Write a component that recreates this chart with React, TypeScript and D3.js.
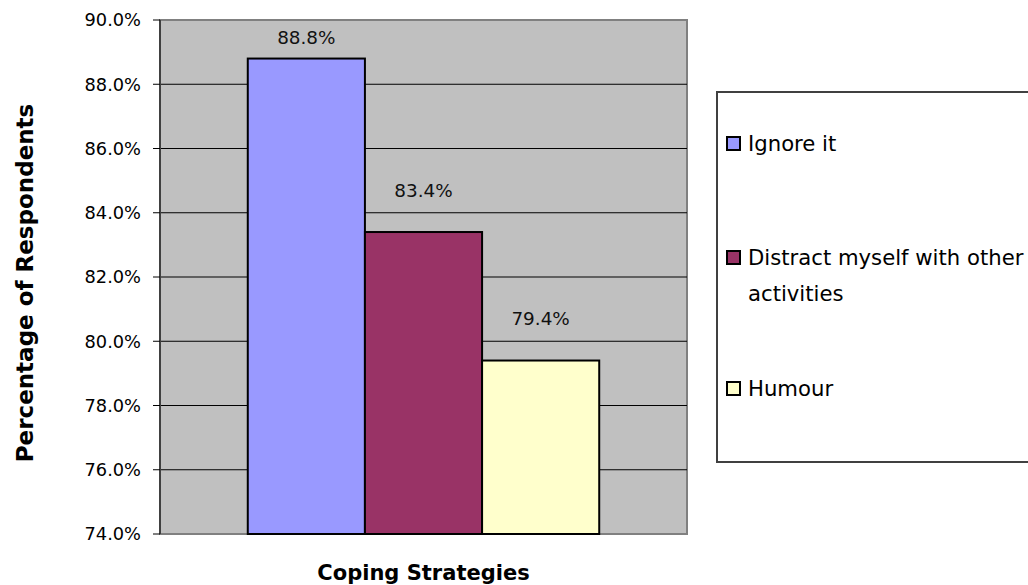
import React from "react";
import * as d3 from "d3";

const categories = ["Ignore it", "Distract myself with other activities", "Humour"];
const legendLines = [["Ignore it"], ["Distract myself with other", "activities"], ["Humour"]];
const values = [88.8, 83.4, 79.4];
const colors = ["#9999ff", "#993366", "#ffffcc"];
const yTicks = [74, 76, 78, 80, 82, 84, 86, 88, 90];

const W = 1028;
const H = 585;
const plot = { left: 160, right: 687, top: 20, bottom: 534 };

export default function App() {
  const y = d3.scaleLinear().domain([74, 90]).range([plot.bottom, plot.top]);
  const outer = d3
    .scaleBand<string>()
    .domain(["g"])
    .range([plot.left, plot.right])
    .paddingInner(0)
    .paddingOuter(0.25 * 0.999);
  const groupX = outer("g")!;
  const groupW = outer.bandwidth();
  const x = d3.scaleBand<string>().domain(categories).range([groupX, groupX + groupW]).padding(0);
  const fontR = "DejaVu Sans, Verdana, sans-serif";

  const legendY = [143, 257, 388];

  return (
    <svg
      width={W}
      height={H}
      style={{ position: "absolute", left: 0, top: 0, background: "#fff" }}
      fontFamily={fontR}
    >
      <rect
        x={plot.left}
        y={plot.top}
        width={plot.right - plot.left}
        height={plot.bottom - plot.top}
        fill="#c0c0c0"
        stroke="#808080"
        strokeWidth={2}
      />
      {yTicks.slice(1, -1).map((t) => (
        <line key={t} x1={plot.left} x2={plot.right} y1={y(t)} y2={y(t)} stroke="#000" strokeWidth={1} />
      ))}
      <line x1={plot.left} x2={plot.left} y1={plot.top} y2={plot.bottom} stroke="#404040" strokeWidth={2} />
      {yTicks.map((t) => (
        <g key={t}>
          <line x1={plot.left - 7} x2={plot.left} y1={y(t)} y2={y(t)} stroke="#000" strokeWidth={1} />
          <text x={141} y={y(t)} dy="0.36em" textAnchor="end" fontSize={17.8} fill="#000">
            {t.toFixed(1) + "%"}
          </text>
        </g>
      ))}
      {categories.map((c, i) => (
        <rect
          key={c}
          x={x(c)}
          y={y(values[i])}
          width={x.bandwidth()}
          height={plot.bottom - y(values[i])}
          fill={colors[i]}
          stroke="#000"
          strokeWidth={2}
        />
      ))}
      {categories.map((c, i) => (
        <text
          key={c}
          x={x(c)! + x.bandwidth() / 2}
          y={Math.max(y(values[i]) - 42, 37)}
          dy="0.36em"
          textAnchor="middle"
          fontSize={18.4}
          fill="#111"
        >
          {values[i].toFixed(1) + "%"}
        </text>
      ))}
      <text
        x={(plot.left + plot.right) / 2}
        y={580}
        textAnchor="middle"
        fontSize={21}
        fontWeight="bold"
        fill="#000"
      >
        Coping Strategies
      </text>
      <text
        transform={`translate(33, 283) rotate(-90)`}
        textAnchor="middle"
        fontSize={23}
        fontWeight="bold"
        fill="#000"
      >
        Percentage of Respondents
      </text>
      <rect x={717} y={92} width={330} height={370} fill="#fff" stroke="#404040" strokeWidth={2} />
      {categories.map((c, i) => (
        <g key={c}>
          <rect x={727} y={legendY[i] - 6} width={13} height={13} fill={colors[i]} stroke="#000" strokeWidth={2} />
          {legendLines[i].map((ln, j) => (
            <text key={j} x={748} y={legendY[i] + j * 36} dy="0.36em" fontSize={21.2} fill="#000">
              {ln}
            </text>
          ))}
        </g>
      ))}
    </svg>
  );
}
